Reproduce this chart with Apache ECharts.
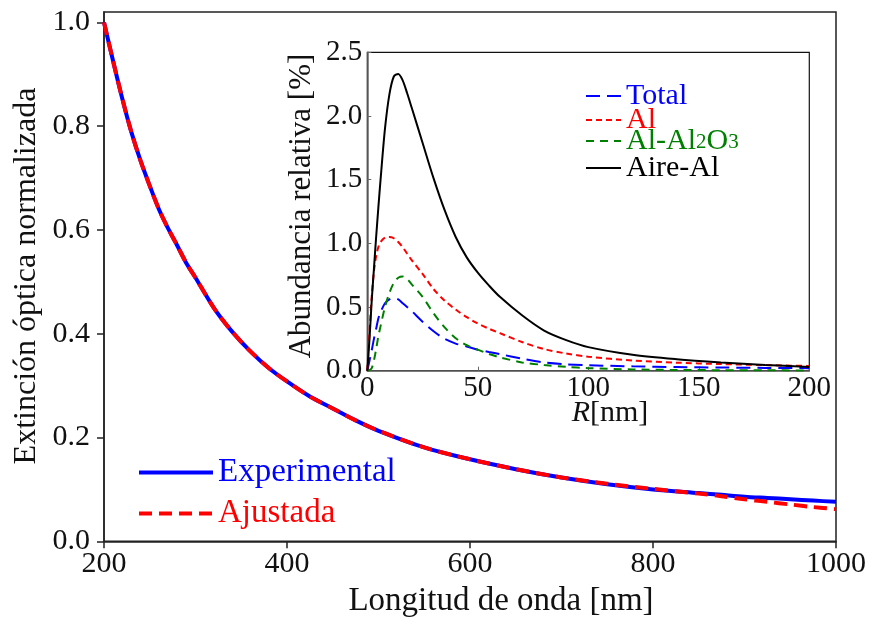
<!DOCTYPE html>
<html><head><meta charset="utf-8">
<script src="https://cdn.jsdelivr.net/npm/echarts@6/dist/echarts.min.js"></script>
<style>html,body{margin:0;padding:0;background:#fff}#c{width:869px;height:617px}</style>
</head><body><div id="c"></div>
<script>
// Main chart data
const wavelength = [200,210,220,230,240,250,260,270,280,290,300,320,340,360,380,400,425,450,475,500,550,600,650,700,750,800,850,875,900,925,950,975,1000];
const experimental = [1.000,0.925,0.853,0.788,0.733,0.685,0.640,0.603,0.570,0.536,0.508,0.450,0.404,0.366,0.334,0.308,0.279,0.256,0.233,0.213,0.181,0.158,0.139,0.123,0.110,0.100,0.093,0.0895,0.086,0.0835,0.081,0.0785,0.076];
const ajustada = [1.000,0.925,0.853,0.788,0.733,0.685,0.640,0.603,0.570,0.536,0.508,0.450,0.404,0.366,0.334,0.308,0.279,0.256,0.233,0.213,0.181,0.158,0.139,0.123,0.111,0.101,0.092,0.087,0.081,0.076,0.071,0.066,0.062];
const mainXTicks = [200,400,600,800,1000];
const mainYTicks = [0,0.2,0.4,0.6,0.8,1.0];
// Inset data
const radius = [0,1,2,3,4,5,6,8,10,12,14,16,18,20,25,30,35,40,45,50,55,60,70,80,90,100,120,140,160,180,200];
const total = [0,0.08,0.16,0.25,0.33,0.41,0.46,0.53,0.56,0.57,0.56,0.53,0.50,0.47,0.385,0.31,0.25,0.213,0.19,0.165,0.147,0.13,0.095,0.065,0.05,0.043,0.034,0.029,0.025,0.022,0.02];
const al = [0,0.3,0.58,0.78,0.9,0.97,1.01,1.045,1.05,1.04,1.01,0.97,0.92,0.87,0.76,0.64,0.55,0.48,0.42,0.37,0.33,0.295,0.225,0.17,0.135,0.11,0.08,0.063,0.052,0.044,0.037];
const alAl2O3 = [0,0.005,0.02,0.08,0.17,0.27,0.35,0.5,0.61,0.69,0.73,0.74,0.72,0.68,0.58,0.45,0.34,0.255,0.2,0.165,0.132,0.105,0.065,0.045,0.03,0.02,0.01,0.006,0.004,0.003,0.002];
const aireAl = [0,0.25,0.55,0.8,1.05,1.28,1.5,1.9,2.17,2.31,2.33,2.28,2.18,2.07,1.79,1.51,1.26,1.05,0.89,0.77,0.67,0.58,0.435,0.315,0.24,0.185,0.125,0.09,0.065,0.045,0.03];
const insetXTicks = [0,50,100,150,200];
const insetYTicks = [0,0.5,1.0,1.5,2.0,2.5];

const FONT = '"Liberation Serif", "DejaVu Serif", serif';
const pair = (xs, ys) => xs.map((x, i) => [x, ys[i]]);
const AX = '#222';
const noSymbol = {color: 'rgba(0,0,0,0)', borderWidth: 0, opacity: 0};

function insetLegend(name, color, top) {
  return {left: 585, top: top, padding: 0, itemWidth: 35, itemHeight: 10, z: 20,
    itemStyle: noSymbol, lineStyle: {width: 2},
    data: [{name: name, textStyle: {color: color}}],
    formatter: n => n === 'Al-Al2O3' ? '{g|Al-Al}{s|2}{g|O}{s|3}' : n,
    textStyle: {fontSize: 30, fontFamily: FONT, lineHeight: 24,
      rich: {g: {fontSize: 30, fontFamily: FONT, color: color, lineHeight: 24},
             s: {fontSize: 21, fontFamily: FONT, color: color, lineHeight: 24, verticalAlign: 'bottom', padding: [16,0,0,0]}}}};
}

const chart = echarts.init(document.getElementById('c'), null, {renderer: 'canvas'});
chart.setOption({
  animation: false,
  backgroundColor: '#fff',
  textStyle: {fontFamily: FONT},
  grid: [
    {left: 104, right: 31.5, top: 12, bottom: 75.7, show: true, borderColor: AX, borderWidth: 1.5, backgroundColor: 'transparent', z: 0},
    {left: 367.3, right: 59.7, top: 52.3, bottom: 246.3, show: true, borderColor: '#111', borderWidth: 1.2, backgroundColor: '#fff', z: 5}
  ],
  xAxis: [
    {gridIndex: 0, type: 'value', min: 200, max: 1000, interval: 200,
     axisLine: {show: true, lineStyle: {color: AX, width: 1.5}},
     axisTick: {show: true, inside: false, length: 7, lineStyle: {color: AX, width: 1.5}, customValues: mainXTicks},
     axisLabel: {fontSize: 30, color: '#111', fontFamily: FONT, margin: 8, customValues: mainXTicks, formatter: v => String(v)},
     splitLine: {show: false}},
    {gridIndex: 1, type: 'value', min: 0, max: 200, interval: 50, z: 6,
     axisLine: {show: true, lineStyle: {color: '#666', width: 1.5}},
     axisTick: {show: true, inside: true, length: 4, lineStyle: {color: '#666'}, customValues: insetXTicks},
     axisLabel: {fontSize: 29, color: '#111', fontFamily: FONT, margin: 3, customValues: insetXTicks, formatter: v => String(v)},
     splitLine: {show: false}}
  ],
  yAxis: [
    {gridIndex: 0, type: 'value', min: 0, max: 1.02,
     axisLine: {show: true, lineStyle: {color: AX, width: 1.5}},
     axisTick: {show: true, inside: false, length: 7, lineStyle: {color: AX, width: 1.5}, customValues: mainYTicks},
     axisLabel: {fontSize: 30, color: '#111', fontFamily: FONT, margin: 14, customValues: mainYTicks, formatter: v => v.toFixed(1)},
     splitLine: {show: false}},
    {gridIndex: 1, type: 'value', min: 0, max: 2.5, z: 6,
     axisLine: {show: true, lineStyle: {color: '#666', width: 1.5}},
     axisTick: {show: true, inside: true, length: 4, lineStyle: {color: '#666'}, customValues: insetYTicks},
     axisLabel: {fontSize: 29, color: '#111', fontFamily: FONT, margin: 5, customValues: insetYTicks, formatter: v => v.toFixed(1)},
     splitLine: {show: false}}
  ],
  legend: [
    {left: 137, top: 456, padding: 0, orient: 'vertical', itemWidth: 74, itemHeight: 14, itemGap: 8, z: 20,
     itemStyle: noSymbol, lineStyle: {width: 4},
     data: [{name: 'Experimental', textStyle: {color: '#0000ff'}}, {name: 'Ajustada', textStyle: {color: '#ff0000'}}],
     textStyle: {fontSize: 33, fontFamily: FONT, lineHeight: 32}},
    insetLegend('Total', '#0000ff', 81),
    insetLegend('Al', '#ff0000', 105),
    insetLegend('Al-Al2O3', '#008000', 116),
    insetLegend('Aire-Al', '#000000', 153)
  ],
  series: [
    {name: 'Experimental', type: 'line', xAxisIndex: 0, yAxisIndex: 0, data: pair(wavelength, experimental),
     showSymbol: false, symbol: 'none', smooth: 0.3, lineStyle: {color: '#0000ff', width: 4}, itemStyle: {color: '#0000ff'}, z: 2},
    {name: 'Ajustada', type: 'line', xAxisIndex: 0, yAxisIndex: 0, data: pair(wavelength, ajustada),
     showSymbol: false, symbol: 'none', smooth: 0.3, lineStyle: {color: '#ff0000', width: 4, type: [13, 7]}, itemStyle: {color: '#ff0000'}, z: 3},
    {name: 'Total', type: 'line', xAxisIndex: 1, yAxisIndex: 1, data: pair(radius, total),
     showSymbol: false, symbol: 'none', smooth: 0.3, lineStyle: {color: '#0000ff', width: 2, type: [14, 7]}, itemStyle: {color: '#0000ff'}, z: 10},
    {name: 'Al', type: 'line', xAxisIndex: 1, yAxisIndex: 1, data: pair(radius, al),
     showSymbol: false, symbol: 'none', smooth: 0.3, lineStyle: {color: '#ff0000', width: 2, type: [6, 4]}, itemStyle: {color: '#ff0000'}, z: 10},
    {name: 'Al-Al2O3', type: 'line', xAxisIndex: 1, yAxisIndex: 1, data: pair(radius, alAl2O3),
     showSymbol: false, symbol: 'none', smooth: 0.3, lineStyle: {color: '#008000', width: 2, type: [8, 6]}, itemStyle: {color: '#008000'}, z: 10},
    {name: 'Aire-Al', type: 'line', xAxisIndex: 1, yAxisIndex: 1, data: pair(radius, aireAl),
     showSymbol: false, symbol: 'none', smooth: 0.3, lineStyle: {color: '#000', width: 2}, itemStyle: {color: '#000'}, z: 10}
  ],
  graphic: [
    {type: 'text', x: 501, y: 601, z: 20, style: {text: 'Longitud de onda [nm]', font: '33px ' + FONT, fill: '#111', textAlign: 'center', textVerticalAlign: 'middle'}},
    {type: 'text', x: 27, y: 276, rotation: Math.PI / 2, z: 20, style: {text: 'Extinción óptica normalizada', font: '32px ' + FONT, fill: '#111', textAlign: 'center', textVerticalAlign: 'middle'}},
    {type: 'text', x: 302, y: 206, rotation: Math.PI / 2, z: 20, style: {text: 'Abundancia relativa [%]', font: '31px ' + FONT, fill: '#111', textAlign: 'center', textVerticalAlign: 'middle'}},
    {type: 'text', x: 610, y: 413, z: 20, style: {rich: {i: {font: 'italic 30px ' + FONT, fill: '#111'}, n: {font: '30px ' + FONT, fill: '#111'}}, text: '{i|R}{n|[nm]}', textAlign: 'center', textVerticalAlign: 'middle'}}
  ]
});
</script></body></html>
